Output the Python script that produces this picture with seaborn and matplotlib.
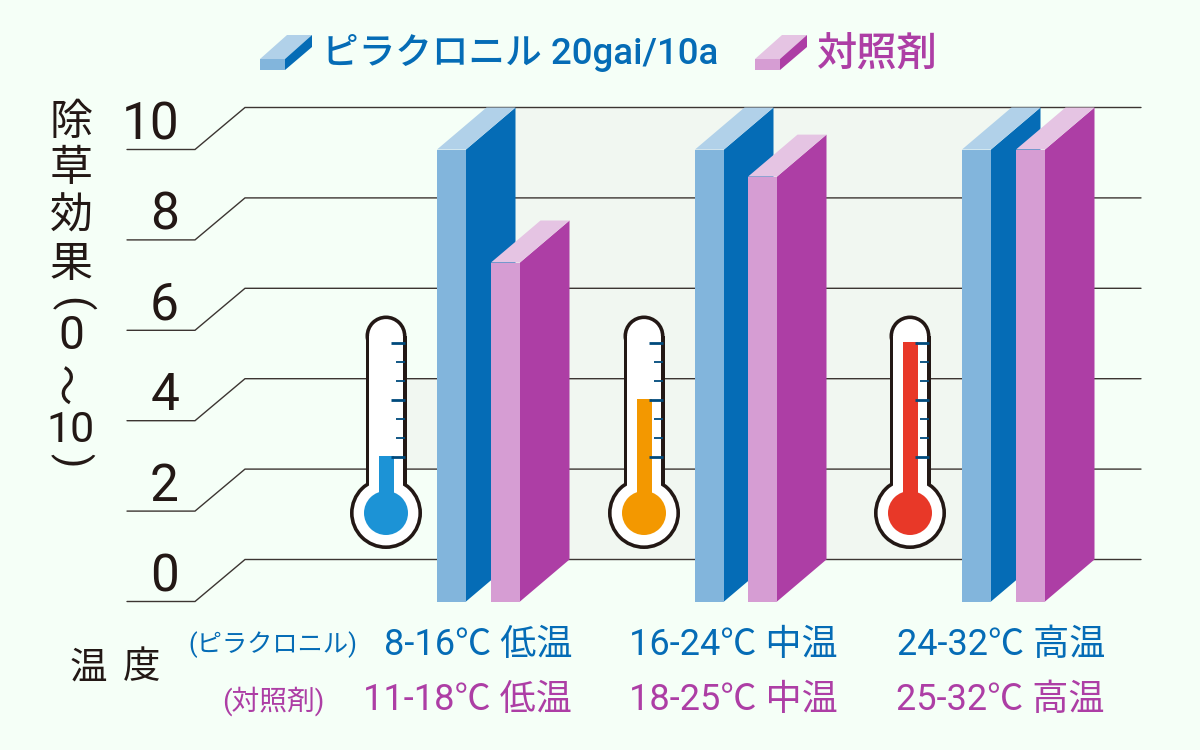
import numpy as np
import pandas as pd
import matplotlib
matplotlib.use('Agg')
import matplotlib.pyplot as plt
from matplotlib.patches import Circle, Polygon, Rectangle
import seaborn as sns

# values
groups = ['低温', '中温', '高温']
pyraclonil = [10, 10, 10]
control = [7.5, 9.4, 10]
y_ticks = [0, 2, 4, 6, 8, 10]
thermo_levels = [0, 3, 6]  # steps on the thermometer scale
thermo_colors = ['#1c93d6', '#f39800', '#e83828']
row_pyraclonil = ['8-16℃ 低温', '16-24℃ 中温', '24-32℃ 高温']
row_control = ['11-18℃ 低温', '18-25℃ 中温', '25-32℃ 高温']
legend_names = ['ピラクロニル 20gai/10a', '対照剤']

BG = '#f5fff7'
WALL = '#f1f7f1'
INK = '#231815'
BLUE = ['#82b5dc', '#056cb6', '#b1d1e9']  # front, side, top
PINK = ['#d69dd3', '#ad3ea5', '#e5c4e3']

sns.set_theme(style='white')
plt.rcParams['font.family'] = ['Roboto', 'Noto Sans CJK JP', 'DejaVu Sans']

fig = plt.figure(figsize=(12, 7.5), dpi=100, facecolor=BG)

# main axes: x in pixels, y in score units (0 at px 601.5, 10 at px 149.5)
PX_PER_UNIT = 45.2
ax = fig.add_axes([0, 0, 1, 1])
ax.set_facecolor(BG)

DX = 49.5
DY = 42 / PX_PER_UNIT
BAR_W = 29


def draw_bars(values, lefts, colors, z):
    df = pd.DataFrame({'pos': [l + BAR_W / 2 for l in lefts], 'value': values, 'group': groups})
    before = len(ax.patches)
    sns.barplot(data=df, x='pos', y='value', native_scale=True, color=colors[0],
                saturation=1, ax=ax, zorder=z, errorbar=None)
    for p, left in zip(ax.patches[before:], lefts):
        p.set_x(left)
        p.set_width(BAR_W)
        p.set_linewidth(0)
        x0, x1, h = left, left + BAR_W, p.get_height()
        ax.add_patch(Polygon([(x1, 0), (x1 + DX, DY), (x1 + DX, h + DY), (x1, h)],
                             fc=colors[1], ec='none', zorder=z))
        ax.add_patch(Polygon([(x0, h), (x1, h), (x1 + DX, h + DY), (x0 + DX, h + DY)],
                             fc=colors[2], ec='none', zorder=z))


draw_bars(pyraclonil, [437, 695, 962], BLUE, 3)
draw_bars(control, [491, 748, 1016], PINK, 4)

# back wall, only shows between the bars
ax.add_patch(Polygon([(515, DY), (963, DY), (963, 10), (962 + DX, 10 + DY), (515, 10 + DY)],
                     fc=WALL, ec='none', zorder=0))
ax.add_patch(Rectangle((405, 2 + DY), 32, 2, fc=WALL, ec='none', zorder=0))

# grid lines with the step round the corner
for t in y_ticks:
    ax.plot([127, 195, 195 + 50, 1141], [t, t, t + DY, t + DY], color='#3c3532', lw=1, zorder=1,
            solid_joinstyle='miter')

ax.set_xlim(0, 1200)
ax.set_ylim((601.5 - 750) / PX_PER_UNIT, 601.5 / PX_PER_UNIT)
ax.axis('off')

# overlay in plain pixels for the thermometers, legend and text
ov = fig.add_axes([0, 0, 1, 1], facecolor='none')
ov.set_xlim(0, 1200)
ov.set_ylim(750, 0)
ov.axis('off')


def thermometer(cx, level, color):
    for grow, col in [(0, INK), (-3.6, 'white')]:
        ov.add_patch(Circle((cx, 513), 36 + grow, fc=col, ec='none', zorder=6))
        ov.add_patch(Circle((cx, 336), 20.5 + grow, fc=col, ec='none', zorder=6))
        ov.add_patch(Rectangle((cx - 20.5 - grow, 336), 41 + 2 * grow, 170, fc=col, ec='none', zorder=6))
    ov.add_patch(Circle((cx, 513), 22, fc=color, ec='none', zorder=7))
    top = 456 - 19 * level
    ov.add_patch(Rectangle((cx - 7.5, top), 15, 513 - top, fc=color, ec='none', zorder=7))
    for i in range(7):
        y = 456.5 - 19 * i
        major = i % 3 == 0
        ov.plot([cx + (5 if major else 10), cx + 19], [y, y], color='#004a7c',
                lw=2.0 if major else 1.3, zorder=8, solid_capstyle='butt')


for cx, lev, col in zip([386, 644, 910], thermo_levels, thermo_colors):
    thermometer(cx, lev, col)


def swatch(x, colors):
    ov.add_patch(Polygon([(x, 59), (x + 25, 59), (x + 25, 70), (x, 70)], fc=colors[0], ec='none'))
    ov.add_patch(Polygon([(x, 59), (x + 25, 59), (x + 52, 35), (x + 27, 35)], fc=colors[2], ec='none'))
    ov.add_patch(Polygon([(x + 25, 59), (x + 52, 35), (x + 52, 47), (x + 25, 70)], fc=colors[1], ec='none'))


swatch(260, BLUE)
swatch(755, PINK)
ov.text(322, 53, legend_names[0], color=BLUE[1], fontsize=26.4, ha='left', va='center', fontweight='medium')
ov.text(817, 55, legend_names[1], color=PINK[1], fontsize=29, ha='left', va='center', fontweight='medium')

# y tick labels
for t in y_ticks:
    ov.text(179, 601 - t * PX_PER_UNIT - 24, str(t), color=INK, fontsize=37, ha='right', va='center')

# stacked axis title
for s, y, rot, size in [('除', 123, 0, 31), ('草', 170, 0, 31), ('効', 217, 0, 31), ('果', 265, 0, 31),
                        ('(', 304, 270, 30), ('0', 336, 0, 33), ('〜', 383, 90, 30),
                        ('10', 431, 0, 31), (')', 460, 270, 30)]:
    ov.text(71, y, s, color=INK, fontsize=size, ha='center', va='center', rotation=rot)

# temperature rows
ov.text(88.5, 668, '温', color=INK, fontsize=27, ha='center', va='center')
ov.text(142, 668, '度', color=INK, fontsize=27, ha='center', va='center')
ov.text(273, 645, '(ピラクロニル)', color=BLUE[1], fontsize=18.2, ha='center', va='center')
ov.text(273, 701, '(対照剤)', color=PINK[1], fontsize=20, ha='center', va='center')
for right, a, b in zip([572, 838, 1105], row_pyraclonil, row_control):
    ov.text(right, 645, a, color=BLUE[1], fontsize=26, ha='right', va='center')
    ov.text(right, 700, b, color=PINK[1], fontsize=26, ha='right', va='center')

fig.savefig('out.png', dpi=100, facecolor=BG)
